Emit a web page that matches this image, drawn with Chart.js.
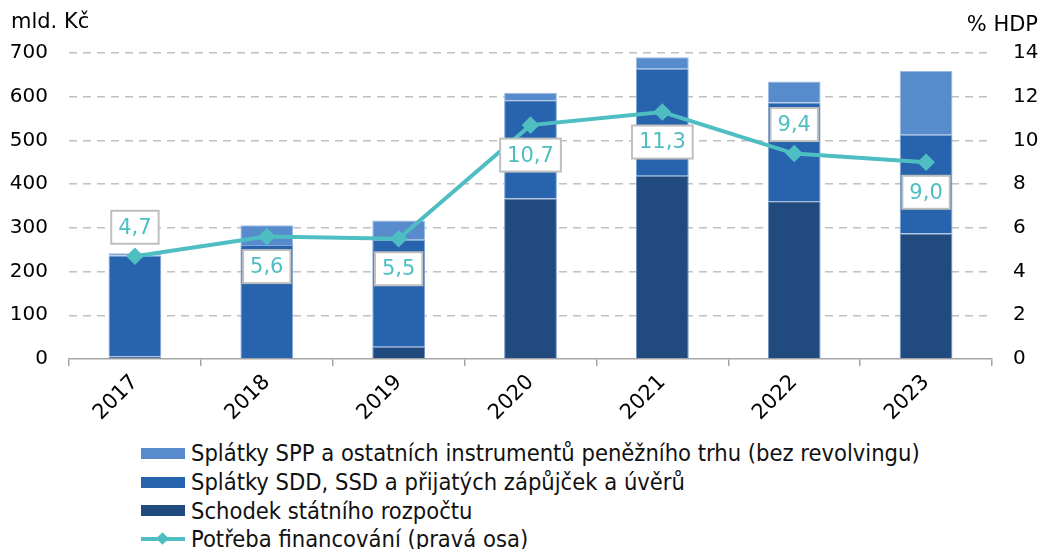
<!DOCTYPE html>
<html>
<head>
<meta charset="utf-8">
<script src="https://cdn.jsdelivr.net/npm/chart.js@4/dist/chart.umd.min.js"></script>
<style>
  body { margin: 0; background: #fff; font-family: "DejaVu Sans", Verdana, sans-serif; }
  #wrap { position: relative; width: 1042px; height: 549px; overflow: hidden; }
  #box { position: absolute; left: 0; top: 0; width: 1042px; height: 430px; }
  #legend { position: absolute; left: 141px; top: 439px; font-family: "DejaVu Sans Condensed", "DejaVu Sans", sans-serif; font-size: 23.5px; color: #111; }
  .row { height: 28.7px; display: flex; align-items: center; white-space: nowrap; }
  .sw { width: 44px; height: 11px; margin-right: 6px; }
  .ln { width: 44px; height: 14px; margin-right: 6px; position: relative; }
  .ln:before { content: ''; position: absolute; left: 0; right: 0; top: 5px; height: 4px; background: #4FBEC3; }
  .ln:after { content: ''; position: absolute; left: 17px; top: 2px; width: 9px; height: 9px; background: #4FBEC3; transform: rotate(45deg); }
</style>
</head>
<body>
<div id="wrap">
  <div id="box"><canvas id="myChart"></canvas></div>
  <div id="legend">
    <div class="row"><div class="sw" style="background:#578BCB"></div>Splátky SPP a ostatních instrumentů peněžního trhu (bez revolvingu)</div>
    <div class="row"><div class="sw" style="background:#2863AD"></div>Splátky SDD, SSD a přijatých zápůjček a úvěrů</div>
    <div class="row"><div class="sw" style="background:#214A7E"></div>Schodek státního rozpočtu</div>
    <div class="row"><div class="ln"></div>Potřeba financování (pravá osa)</div>
  </div>
</div>
<script>
//data
const years = ['2017', '2018', '2019', '2020', '2021', '2022', '2023'];
const deficit = [6, 2, 28, 367, 419, 361, 287];        // Schodek státního rozpočtu
const sddRepay = [231, 259, 245, 225, 245, 226, 226];  // Splátky SDD, SSD ...
const sppRepay = [5, 45, 44, 17, 26, 48, 146];         // Splátky SPP ...
const needPct = [4.7, 5.6, 5.5, 10.7, 11.3, 9.4, 9.0]; // Potřeba financování (% HDP)
const labelSide = ['above', 'below', 'below', 'below', 'below', 'above', 'below'];

const font = 'DejaVu Sans';
const teal = '#4FBEC3';

//value boxes on the line
const valueBoxes = {
    id: 'valueBoxes',
    afterDatasetsDraw(chart) {
        const c = chart.ctx;
        const meta = chart.getDatasetMeta(3);
        c.save();
        c.font = '21px "' + font + '"';
        meta.data.forEach((pt, i) => {
            const txt = needPct[i].toFixed(1).replace('.', ',');
            const w = c.measureText(txt).width + 14;
            const h = 33;
            const cy = pt.y + (labelSide[i] === 'above' ? -29 : 30);
            c.fillStyle = '#fff';
            c.fillRect(pt.x - w / 2, cy - h / 2, w, h);
            c.strokeStyle = '#bfbfbf';
            c.lineWidth = 2;
            c.strokeRect(pt.x - w / 2, cy - h / 2, w, h);
            c.fillStyle = teal;
            c.textAlign = 'center';
            c.textBaseline = 'middle';
            c.fillText(txt, pt.x, cy + 1);
        });
        c.restore();
    }
};

//axis titles
const axisTitles = {
    id: 'axisTitles',
    afterDraw(chart) {
        const c = chart.ctx;
        c.save();
        c.font = '21px "' + font + '"';
        c.fillStyle = '#000';
        c.textBaseline = 'middle';
        c.textAlign = 'left';
        c.fillText('mld. Kč', 11, 23);
        c.textAlign = 'right';
        c.fillText('% HDP', 1038, 26);
        c.restore();
    }
};

const ctx = document.getElementById('myChart').getContext('2d');

const myChart = new Chart(ctx, {
    type: 'bar',
    data: {
        labels: years,
        datasets: [
            { label: 'Schodek státního rozpočtu', data: deficit, backgroundColor: '#214A7E',
              borderColor: '#6f93c4', borderWidth: 1, yAxisID: 'y', order: 2 },
            { label: 'Splátky SDD, SSD a přijatých zápůjček a úvěrů', data: sddRepay, backgroundColor: '#2863AD',
              borderColor: '#7fa6d6', borderWidth: 1, yAxisID: 'y', order: 2 },
            { label: 'Splátky SPP a ostatních instrumentů peněžního trhu (bez revolvingu)', data: sppRepay, backgroundColor: '#578BCB',
              borderColor: '#9dbbe2', borderWidth: 1, yAxisID: 'y', order: 2 },
            { type: 'line', label: 'Potřeba financování (pravá osa)', data: needPct, yAxisID: 'y1', order: 0,
              borderColor: teal, backgroundColor: teal, borderWidth: 4, pointStyle: 'rectRot',
              pointRadius: 6, pointHoverRadius: 6, tension: 0 }
        ]
    },
    options: {
        responsive: true,
        maintainAspectRatio: false,
        animation: false,
        datasets: { bar: { barPercentage: 0.4, categoryPercentage: 1 } },
        layout: { padding: { top: 53, left: 0, right: 0, bottom: 0 } },
        plugins: {
            legend: { display: false },
            tooltip: { enabled: false }
        },
        scales: {
            x: {
                stacked: true,
                grid: { offset: true, drawOnChartArea: false, tickLength: 7, color: '#a6a6a6', lineWidth: 1.5 },
                border: { color: '#a6a6a6', width: 1.5 },
                ticks: { color: '#000', font: { family: font, size: 21 }, minRotation: 45, maxRotation: 45, padding: 4 },
                afterFit(s) { s.height = 71; }
            },
            y: {
                stacked: true,
                min: 0, max: 700,
                grid: { color: (c) => c.tick.value === 0 ? 'rgba(0,0,0,0)' : '#c0c0c0', lineWidth: 1.5, drawTicks: false },
                border: { display: false, dash: [8, 6] },
                ticks: { stepSize: 100, color: '#000', font: { family: font, size: 20 }, padding: 21 },
                afterFit(s) { s.width = 69; }
            },
            y1: {
                position: 'right',
                min: 0, max: 14,
                grid: { drawOnChartArea: false, drawTicks: false },
                border: { display: false },
                ticks: { stepSize: 2, color: '#000', font: { family: font, size: 20 }, padding: 21 },
                afterFit(s) { s.width = 50; }
            }
        }
    },
    plugins: [valueBoxes, axisTitles]
});
</script>
</body>
</html>
